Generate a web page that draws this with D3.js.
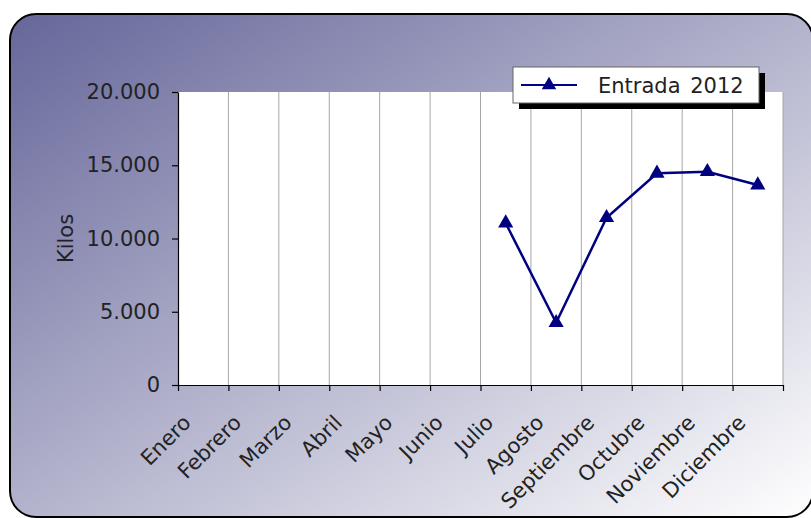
<!DOCTYPE html>
<html>
<head>
<meta charset="utf-8">
<script src="https://cdn.jsdelivr.net/npm/d3@7"></script>
<style>
  html, body { margin: 0; padding: 0; background: #ffffff; overflow: hidden; }
  svg { display: block; }
  text { font-family: "DejaVu Sans", Verdana, sans-serif; }
</style>
</head>
<body>
<svg id="chart" width="811" height="518"></svg>
<script>
const months = ["Enero","Febrero","Marzo","Abril","Mayo","Junio","Julio","Agosto","Septiembre","Octubre","Noviembre","Diciembre"];
const entrada2012 = [null,null,null,null,null,null,11050,4250,11420,14450,14560,13650];
const yTicks = [0,5000,10000,15000,20000];
const seriesName = "Entrada 2012";
const yTitle = "Kilos";

(function(){
const svg = d3.select("#chart");
const defs = svg.append("defs");
const grad = defs.append("linearGradient").attr("id","bg")
  .attr("x1","0").attr("y1","0").attr("x2","1").attr("y2","1");
grad.append("stop").attr("offset","0").attr("stop-color","#66669a");
grad.append("stop").attr("offset","1").attr("stop-color","#ffffff");

// Frame: fill and border drawn separately so the right side stays just outside the view
const fx0 = 10, fy0 = 14, fx1 = 813, fy1 = 517, r = 26;
svg.append("rect").attr("x",fx0).attr("y",fy0).attr("width",fx1-fx0).attr("height",fy1-fy0)
  .attr("rx",r).attr("ry",r).attr("fill","url(#bg)");
const border = d3.path();
border.moveTo(fx1, fy1 - r);
border.lineTo(fx1, fy0 + r);
border.arcTo(fx1, fy0, fx1 - r, fy0, r);
border.lineTo(fx0 + r, fy0);
border.arcTo(fx0, fy0, fx0, fy0 + r, r);
border.lineTo(fx0, fy1 - r);
border.arcTo(fx0, fy1, fx0 + r, fy1, r);
border.lineTo(fx1 - r, fy1);
border.arcTo(fx1, fy1, fx1, fy1 - r, r);
svg.append("path").attr("d", border.toString()).attr("fill","none")
  .attr("stroke","#000").attr("stroke-width",2);

const pL = 178, pR = 783, pT = 92, pB = 385;
const x = d3.scaleBand().domain(months).range([pL,pR]).padding(0);
const xb = d3.scaleLinear().domain([0,months.length]).range([pL,pR]);
const y = d3.scaleLinear().domain([0,20000]).range([pB,pT]);

// plot area
svg.append("rect").attr("x",pL).attr("y",pT).attr("width",pR-pL).attr("height",pB-pT).attr("fill","#fff");

// vertical gridlines at category boundaries
svg.append("g").selectAll("line").data(d3.range(1,months.length+1)).join("line")
  .attr("x1",d=>xb(d)).attr("x2",d=>xb(d)).attr("y1",pT).attr("y2",pB)
  .attr("stroke","#a6a6a6").attr("stroke-width",1);

const loc = d3.formatLocale({decimal:",", thousands:".", grouping:[3], currency:["",""]});
const fmt = loc.format(",");
const txtCol = "#222";

// Y axis
const yAxis = svg.append("g").attr("transform",`translate(${pL},0)`)
  .call(d3.axisLeft(y).tickValues(yTicks).tickFormat(fmt).tickSize(6).tickSizeOuter(0).tickPadding(12));
yAxis.select(".domain").attr("stroke","#000").attr("stroke-width",1.2);
yAxis.selectAll(".tick line").attr("stroke","#000").attr("stroke-width",1.2);
yAxis.selectAll("text").attr("font-size",21).attr("fill",txtCol)
  .attr("font-family","DejaVu Sans, Verdana, sans-serif");

// X axis (ticks at boundaries)
const xAxis = svg.append("g").attr("transform",`translate(0,${pB})`)
  .call(d3.axisBottom(xb).tickValues(d3.range(0,months.length+1)).tickFormat("").tickSize(6).tickSizeOuter(0));
xAxis.select(".domain").attr("stroke","#000").attr("stroke-width",1.2);
xAxis.selectAll(".tick line").attr("stroke","#000").attr("stroke-width",1.2);

// X labels, rotated
svg.append("g").selectAll("text").data(months).join("text")
  .attr("transform",d=>`translate(${x(d)+x.bandwidth()/2-11},${pB+39}) rotate(-45)`)
  .attr("text-anchor","end").attr("font-size",21).attr("fill",txtCol)
  .text(d=>d);

// Y title
svg.append("text").attr("transform",`translate(73,${(pT+pB)/2}) rotate(-90)`)
  .attr("text-anchor","middle").attr("font-size",21).attr("fill",txtCol).text(yTitle);

// Series line
const pts = months.map((m,i)=>({m, v: entrada2012[i]}));
const line = d3.line().defined(d=>d.v!=null)
  .x(d=>x(d.m)+x.bandwidth()/2).y(d=>y(d.v));
svg.append("path").datum(pts).attr("d",line)
  .attr("fill","none").attr("stroke","#000080").attr("stroke-width",2.5);

const tri = d3.symbol().type(d3.symbolTriangle).size(100);
svg.append("g").selectAll("path").data(pts.filter(d=>d.v!=null)).join("path")
  .attr("transform",d=>`translate(${x(d.m)+x.bandwidth()/2},${y(d.v)})`)
  .attr("d",tri).attr("fill","#000080");

// Legend
const lg = svg.append("g");
lg.append("rect").attr("x",519).attr("y",73).attr("width",246).attr("height",36).attr("fill","#000");
lg.append("rect").attr("x",513).attr("y",67).attr("width",246).attr("height",36)
  .attr("fill","#fff").attr("stroke","#666").attr("stroke-width",1);
lg.append("line").attr("x1",521).attr("x2",577).attr("y1",85).attr("y2",85)
  .attr("stroke","#000080").attr("stroke-width",2);
lg.append("path").attr("transform","translate(549,85)").attr("d",d3.symbol().type(d3.symbolTriangle).size(90)()).attr("fill","#000080");
lg.append("text").attr("x",598).attr("y",85).attr("dy","0.36em").attr("font-size",21).attr("fill",txtCol)
  .attr("word-spacing","3px").text(seriesName);
})();
</script>
</body>
</html>
